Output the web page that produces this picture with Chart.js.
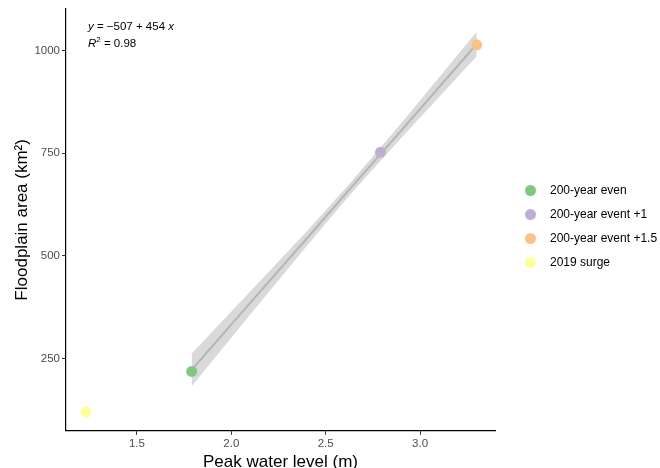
<!DOCTYPE html>
<html lang="en">
  <head>
    <meta charset="UTF-8" />
    <title>Floodplain area vs peak water level</title>
    <script src="https://cdn.jsdelivr.net/npm/chart.js"></script>
    <style>
      body { margin: 0; background: #fff; font-family: "Liberation Sans", Arial, sans-serif; }
      #wrap { position: relative; width: 660px; height: 468px; overflow: hidden; }
      #eq { position: absolute; left: 88px; top: 18px; font-size: 11.5px; line-height: 17px; color: #000; }
      #legend { position: absolute; left: 525px; top: 178px; font-size: 12px; color: #000; }
      #legend div { height: 24px; display: flex; align-items: center; }
      #legend span.dot { width: 11px; height: 11px; border-radius: 50%; display: inline-block; margin-right: 14px; }
    </style>
  </head>
  <body>
    <div id="wrap">
      <canvas id="floodChart" width="660" height="468"></canvas>
      <div id="eq"><i>y</i> = &minus;507 + 454 <i>x</i><br><i>R</i><sup style="font-size:8px;line-height:0">2</sup> = 0.98</div>
      <div id="legend"></div>
    </div>

    <script>
      // scenario points
      var scenarios = ["200-year even", "200-year event +1", "200-year event +1.5", "2019 surge"];
      var peakLevel = [1.79, 2.79, 3.30, 1.23];
      var floodArea = [218, 752, 1014, 119];
      var colors = ["#7FC97F", "#BEAED4", "#FDC086", "#FFFF99"];

      // fitted line and confidence band
      var bandX = [1.79, 2.1, 2.4, 2.625, 2.9, 3.3];
      var fitY = [222, 385, 542, 661, 805, 1016];
      var bandUpper = [262, 413, 560, 675, 823, 1046];
      var bandLower = [182, 357, 524, 647, 787, 986];

      var xTicks = [1.5, 2.0, 2.5, 3.0];
      var yTicks = [250, 500, 750, 1000];

      function pts(xs, ys) {
        return xs.map(function (x, i) { return { x: x, y: ys[i] }; });
      }

      var datasets = scenarios.map(function (name, i) {
        return {
          type: "scatter",
          label: name,
          data: [{ x: peakLevel[i], y: floodArea[i] }],
          backgroundColor: colors[i],
          borderWidth: 0,
          pointRadius: 5.5,
          order: 0,
        };
      });
      datasets.push({
        type: "line",
        label: "fit",
        data: pts(bandX, fitY),
        borderColor: "#b5b5b5",
        borderWidth: 2,
        pointRadius: 0,
        fill: false,
        order: 1,
      });
      datasets.push({
        type: "line",
        label: "upper",
        data: pts(bandX, bandUpper),
        borderWidth: 0,
        pointRadius: 0,
        backgroundColor: "rgba(160,160,160,0.4)",
        fill: "+1",
        order: 2,
      });
      datasets.push({
        type: "line",
        label: "lower",
        data: pts(bandX, bandLower),
        borderWidth: 0,
        pointRadius: 0,
        fill: false,
        order: 2,
      });

      var tickFont = { family: "Liberation Sans", size: 11.5 };
      var titleFont = { family: "Liberation Sans", size: 17 };

      var ctx = document.getElementById("floodChart").getContext("2d");
      var floodChart = new Chart(ctx, {
        type: "scatter",
        data: { datasets: datasets },
        options: {
          responsive: false,
          animation: false,
          layout: { padding: { top: 4, right: 165, left: 12, bottom: -5 } },
          plugins: { legend: { display: false }, tooltip: { enabled: false } },
          scales: {
            x: {
              type: "linear",
              min: 1.124,
              max: 3.397,
              afterBuildTicks: function (s) { s.ticks = xTicks.map(function (v) { return { value: v }; }); },
              ticks: { font: tickFont, color: "#4d4d4d", padding: 2, callback: function (v) { return v.toFixed(1); } },
              grid: { drawOnChartArea: false, drawTicks: true, tickLength: 4, color: "#333" },
              border: { display: true, color: "#000", width: 1.2 },
              title: { display: true, text: "Peak water level (m)", font: titleFont, color: "#000", padding: { top: 0, bottom: 0 } },
            },
            y: {
              type: "linear",
              min: 73.4,
              max: 1101.6,
              afterBuildTicks: function (s) { s.ticks = yTicks.map(function (v) { return { value: v }; }); },
              ticks: { font: tickFont, color: "#4d4d4d", padding: 2, callback: function (v) { return String(v); } },
              grid: { drawOnChartArea: false, drawTicks: true, tickLength: 4, color: "#333" },
              border: { display: true, color: "#000", width: 1.2 },
              title: { display: true, text: "Floodplain area (km\u00b2)", font: titleFont, color: "#000", padding: { top: 0, bottom: 0 } },
            },
          },
        },
      });

      // legend as html
      var legend = document.getElementById("legend");
      scenarios.forEach(function (name, i) {
        var row = document.createElement("div");
        row.innerHTML = '<span class="dot" style="background:' + colors[i] + '"></span>' + name;
        legend.appendChild(row);
      });
    </script>
  </body>
</html>
